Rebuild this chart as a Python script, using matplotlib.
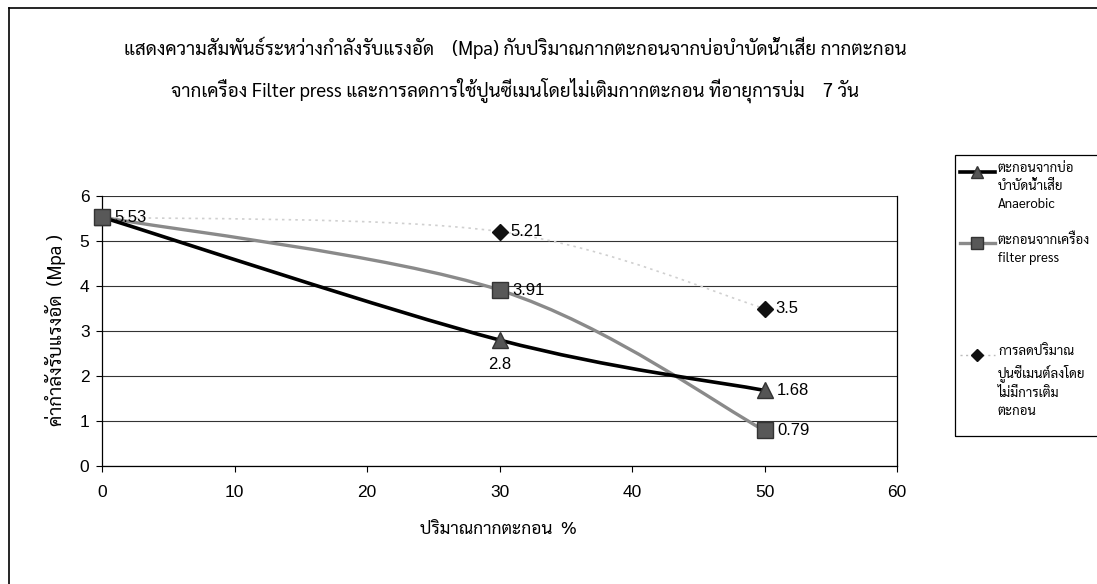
import matplotlib
matplotlib.use("Agg")
import matplotlib.pyplot as plt
from matplotlib.path import Path
from matplotlib.patches import PathPatch, Rectangle
from matplotlib.lines import Line2D

# ---- data ----
sludge_pct = [0, 30, 50]
anaerobic = [5.53, 2.8, 1.68]
filter_press = [5.53, 3.91, 0.79]
less_cement = [5.53, 5.21, 3.5]

x_ticks = [0, 10, 20, 30, 40, 50, 60]
y_ticks = [0, 1, 2, 3, 4, 5, 6]

title_lines = [
    "แสดงความสัมพันธ์ระหว่างกำลังรับแรงอัด    (Mpa) กับปริมาณกากตะกอนจากบ่อบำบัดน้ำเสีย กากตะกอน",
    "จากเครื่อง Filter press และการลดการใช้ปูนซีเมนโดยไม่เติมกากตะกอน ที่อายุการบ่ม    7 วัน",
]
x_label = "ปริมาณกากตะกอน  %"
y_label = "ค่ากำลังรับแรงอัด  (Mpa )"
legend_labels = [
    "ตะกอนจากบ่อ\nบำบัดน้ำเสีย\nAnaerobic",
    "ตะกอนจากเครื่อง\nfilter press",
    "การลดปริมาณ\nปูนซีเมนต์ลงโดย\nไม่มีการเติม\nตะกอน",
]

THAI = ["Sarabun", "Thasadith", "DejaVu Sans"]
NUM = ["Liberation Sans Narrow", "Liberation Sans", "DejaVu Sans"]

W, H = 1097, 584
fig = plt.figure(figsize=(W / 100, H / 100), dpi=100)


def fx(px):
    return px / W


def fy(py):
    return 1 - py / H


ax = fig.add_axes([fx(102), fy(466), fx(897) - fx(102), fy(196) - fy(466)])
ax.set_xlim(0, 60)
ax.set_ylim(0, 6)
ax.set_xticks(x_ticks)
ax.set_yticks(y_ticks)
ax.tick_params(direction="out", length=4, width=0.8, colors="black",
               labelsize=12.5)
ax.tick_params(axis="x", pad=10)
ax.tick_params(axis="y", pad=5)
for lab in ax.get_xticklabels() + ax.get_yticklabels():
    lab.set_fontfamily(NUM)
ax.grid(axis="y", color="#333333", linewidth=0.8)
ax.set_axisbelow(True)
for s in ax.spines.values():
    s.set_color("black")
    s.set_linewidth(0.9)
ax.spines["top"].set_visible(False)


def smooth_path(xs, ys):
    """Cubic Bezier path through the points (Catmull-Rom style smoothing)."""
    pts = list(zip(xs, ys))
    verts = [pts[0]]
    codes = [Path.MOVETO]
    n = len(pts)
    for i in range(n - 1):
        p0 = pts[i - 1] if i > 0 else pts[i]
        p1 = pts[i]
        p2 = pts[i + 1]
        p3 = pts[i + 2] if i + 2 < n else pts[i + 1]
        c1 = (p1[0] + (p2[0] - p0[0]) / 6, p1[1] + (p2[1] - p0[1]) / 6)
        c2 = (p2[0] - (p3[0] - p1[0]) / 6, p2[1] - (p3[1] - p1[1]) / 6)
        verts += [c1, c2, p2]
        codes += [Path.CURVE4] * 3
    return Path(verts, codes)


# smoothed connecting lines
ax.add_patch(PathPatch(smooth_path(sludge_pct, less_cement), fill=False,
                       edgecolor="#d0d0d0", linewidth=1.2, linestyle=(0, (1.5, 2.5)),
                       zorder=2))
ax.add_patch(PathPatch(smooth_path(sludge_pct, filter_press), fill=False,
                       edgecolor="#8a8a8a", linewidth=2.4, zorder=3))
ax.add_patch(PathPatch(smooth_path(sludge_pct, anaerobic), fill=False,
                       edgecolor="black", linewidth=2.6, zorder=4))

# markers
ax.plot(sludge_pct, less_cement, linestyle="none", marker="D", markersize=8,
        color="#111111", zorder=5, clip_on=False)
ax.plot(sludge_pct, anaerobic, linestyle="none", marker="^", markersize=11,
        color="#555555", markeredgecolor="#333333", zorder=6, clip_on=False)
ax.plot(sludge_pct, filter_press, linestyle="none", marker="s", markersize=11,
        color="#585858", markeredgecolor="#333333", zorder=7, clip_on=False)

# data labels
lab_kw = dict(fontsize=12, family=NUM, color="black", zorder=8)
ax.annotate(f"{filter_press[0]}", (sludge_pct[0], filter_press[0]),
            xytext=(9, 0), textcoords="offset points", va="center", ha="left", **lab_kw)
for i in (1, 2):
    ax.annotate(f"{filter_press[i]}", (sludge_pct[i], filter_press[i]),
                xytext=(9, 0), textcoords="offset points", va="center", ha="left", **lab_kw)
    ax.annotate(f"{less_cement[i]}", (sludge_pct[i], less_cement[i]),
                xytext=(8, 0), textcoords="offset points", va="center", ha="left", **lab_kw)
ax.annotate(f"{anaerobic[1]}", (sludge_pct[1], anaerobic[1]),
            xytext=(0, -12), textcoords="offset points", va="top", ha="center", **lab_kw)
ax.annotate(f"{anaerobic[2]}", (sludge_pct[2], anaerobic[2]),
            xytext=(9, 0), textcoords="offset points", va="center", ha="left", **lab_kw)

# titles and axis labels
fig.text(fx(515), fy(48), title_lines[0], ha="center", va="center",
         fontsize=13.5, family=THAI)
fig.text(fx(515), fy(90), title_lines[1], ha="center", va="center",
         fontsize=13.5, family=THAI)
fig.text(fx(498), fy(530), x_label, ha="center", va="center",
         fontsize=12.5, family=THAI)
fig.text(fx(55), fy(330), y_label, ha="center", va="center", rotation=90,
         fontsize=13.5, family=THAI)

# outer chart frame (left and top edges)
fig.add_artist(Line2D([fx(9), fx(9)], [fy(8), 0], color="black", linewidth=1.2))
fig.add_artist(Line2D([fx(9), 1], [fy(8), fy(8)], color="black", linewidth=1.2))

# legend
fig.add_artist(Rectangle((fx(955), fy(436)), fx(1100) - fx(955), fy(155) - fy(436),
                         transform=fig.transFigure, fill=False,
                         edgecolor="black", linewidth=0.9))
entries = [
    (172, dict(color="black", linewidth=2.6),
     dict(marker="^", markersize=9, color="#555555", markeredgecolor="#333333")),
    (243, dict(color="#8a8a8a", linewidth=2.4),
     dict(marker="s", markersize=8, color="#585858", markeredgecolor="#333333")),
    (355, dict(color="#bbbbbb", linewidth=1.0, linestyle=(0, (1.5, 2.5))),
     dict(marker="D", markersize=6, color="#111111")),
]
for (py, line_kw, mk_kw), text in zip(entries, legend_labels):
    fig.add_artist(Line2D([fx(960), fx(995)], [fy(py), fy(py)], **line_kw))
    fig.add_artist(Line2D([fx(977)], [fy(py)], linestyle="none", **mk_kw))
    fig.text(fx(998), fy(py - 10), text, ha="left", va="top", fontsize=9.5,
             family=THAI, linespacing=1.5)

fig.savefig("out.png", dpi=100)
